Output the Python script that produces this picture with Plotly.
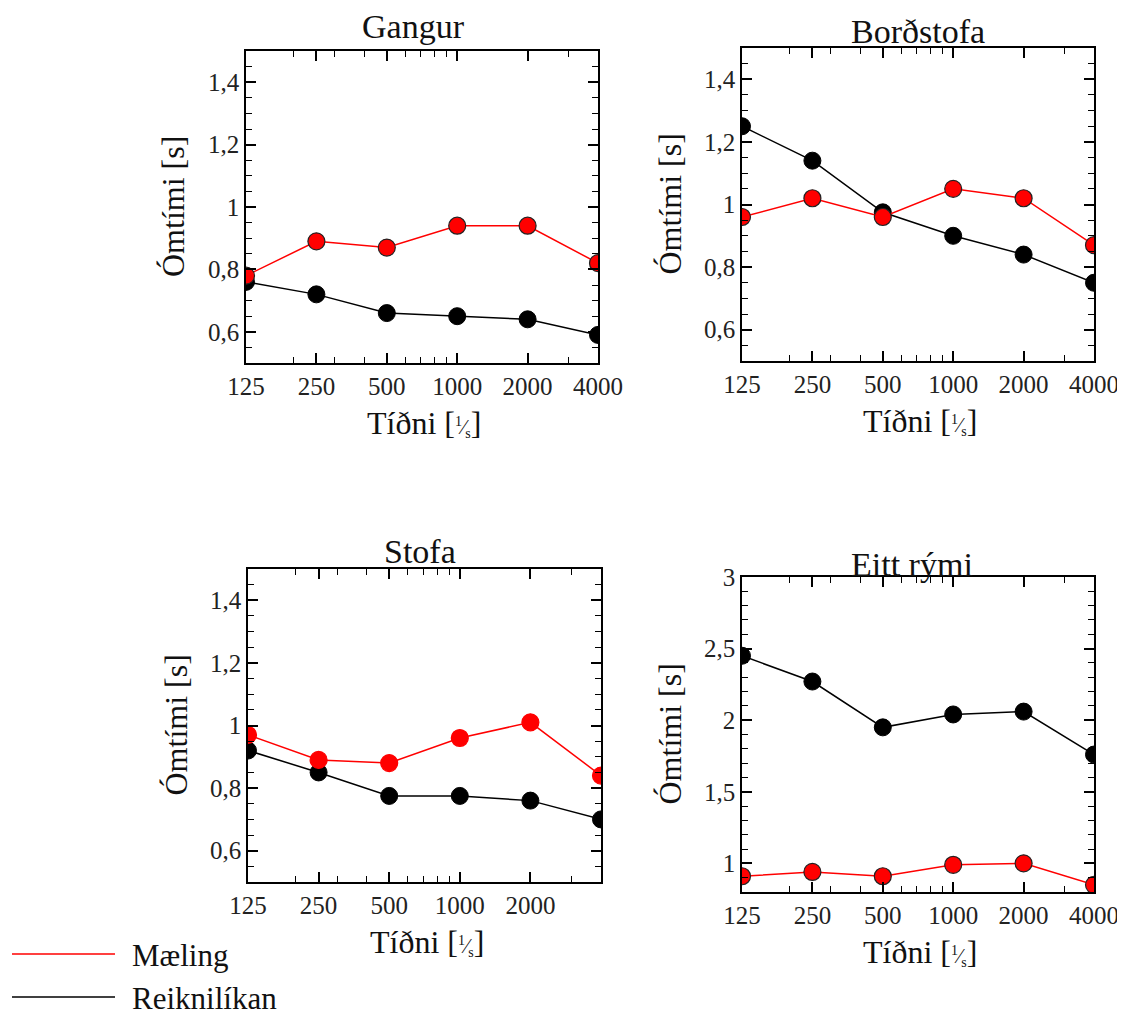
import math
import plotly.graph_objects as go

W, H = 1125, 1014
OFF = 8  # page body margin offset in the browser

freq = [125, 250, 500, 1000, 2000, 4000]
freq_labels = ["125", "250", "500", "1000", "2000", "4000"]
minor_freq = [200, 300, 400, 600, 700, 800, 900, 3000]

gangur_maeling = [0.78, 0.89, 0.87, 0.94, 0.94, 0.82]
gangur_reikn = [0.76, 0.72, 0.66, 0.65, 0.64, 0.59]

bord_maeling = [0.96, 1.02, 0.96, 1.05, 1.02, 0.87]
bord_reikn = [1.25, 1.14, 0.975, 0.90, 0.84, 0.75]

stofa_maeling = [0.97, 0.89, 0.88, 0.96, 1.01, 0.84]
stofa_reikn = [0.92, 0.85, 0.775, 0.775, 0.76, 0.70]

eitt_maeling = [0.91, 0.94, 0.91, 0.99, 1.00, 0.85]
eitt_reikn = [2.45, 2.27, 1.95, 2.04, 2.06, 1.76]

titles = ["Gangur", "Borðstofa", "Stofa", "Eitt rými"]

FONT = "Liberation Serif"
RED = "#ff0000"


def fx(px):
    return (px - OFF) / W


def fy(py):
    return 1 - (py - OFF) / H


# panel pixel boxes (screen coords): (left, right, top, bottom)
boxes = [(246, 598, 51, 363), (742, 1094, 48, 361), (248, 601, 569, 882), (742, 1094, 577, 892)]
title_pos = [(413, 27), (918, 31), (420, 551), (912, 564)]

panels = [
    dict(m=gangur_maeling, r=gangur_reikn, yr=[0.5, 1.5], dt=0.2, mdt=0.05, ticks=freq, red_edge=True),
    dict(m=bord_maeling, r=bord_reikn, yr=[0.5, 1.5], dt=0.2, mdt=0.05, ticks=freq, red_edge=True),
    dict(m=stofa_maeling, r=stofa_reikn, yr=[0.5, 1.5], dt=0.2, mdt=0.05, ticks=freq[:5], red_edge=False),
    dict(m=eitt_maeling, r=eitt_reikn, yr=[0.8, 3.0001], dt=0.5, mdt=0.1, ticks=freq, red_edge=True),
]

XTITLE = "Tíðni [<span style='font-size:20px'><sup>1</sup>⁄<sub>s</sub></span>]"

fig = go.Figure()
annotations = []

for i, (p, box) in enumerate(zip(panels, boxes)):
    n = "" if i == 0 else str(i + 1)
    xa, ya = "x" + n, "y" + n
    fig.add_trace(go.Scatter(
        x=freq, y=p["r"], mode="lines+markers", name="Reiknilíkan", showlegend=False,
        line=dict(color="black", width=1.5),
        marker=dict(size=17, color="black", line=dict(color="black", width=1)),
        xaxis=xa, yaxis=ya))
    fig.add_trace(go.Scatter(
        x=freq, y=p["m"], mode="lines+markers", name="Mæling", showlegend=False,
        line=dict(color=RED, width=1.5),
        marker=dict(size=17, color=RED,
                    line=dict(color="#222222" if p["red_edge"] else RED, width=1.2)),
        xaxis=xa, yaxis=ya))
    l, r, t, b = box
    axis_common = dict(showline=True, linecolor="black", linewidth=1.5, mirror="ticks",
                       ticks="inside", tickcolor="black", showgrid=False, zeroline=False,
                       automargin=False,
                       tickfont=dict(family=FONT, size=25, color="#222222"))
    fig.update_layout(**{
        ("xaxis" + n): dict(axis_common, type="log", domain=[fx(l), fx(r)],
                            range=[math.log10(125), math.log10(4000)],
                            tickmode="array", tickvals=p["ticks"],
                            ticktext=[freq_labels[freq.index(v)] for v in p["ticks"]],
                            ticklen=10, tickwidth=1.5,
                            minor=dict(ticks="inside", tickvals=minor_freq, ticklen=6,
                                       tickcolor="black", tickwidth=1.2),
                            anchor=ya),
        ("yaxis" + n): dict(axis_common, domain=[fy(b), fy(t)], range=p["yr"],
                            dtick=p["dt"], tick0=0, ticklen=10, tickwidth=1.5,
                            minor=dict(ticks="inside", dtick=p["mdt"], ticklen=6,
                                       tickcolor="black", tickwidth=1.2),
                            anchor=xa),
    })
    tx, ty = title_pos[i]
    annotations.append(dict(text=titles[i], x=fx(tx), y=fy(ty), xref="paper", yref="paper",
                            showarrow=False, font=dict(family=FONT, size=34, color="#111111"),
                            xanchor="center", yanchor="middle"))
    # axis titles
    annotations.append(dict(text=XTITLE, x=fx((l + r) / 2 + 2),
                            y=fy(b + 60), xref="paper", yref="paper", showarrow=False,
                            font=dict(family=FONT, size=32, color="#111111"),
                            xanchor="center", yanchor="middle"))
    annotations.append(dict(text="Ómtími [s]", x=fx(l - 73), y=fy((t + b) / 2),
                            xref="paper", yref="paper", showarrow=False, textangle=-90,
                            font=dict(family=FONT, size=32, color="#111111"),
                            xanchor="center", yanchor="middle"))

# legend (drawn manually to match the reference layout)
legend_items = [("Mæling", RED, 954), ("Reiknilíkan", "black", 997)]
shapes = []
for name, col, yy in legend_items:
    shapes.append(dict(type="line", xref="paper", yref="paper", x0=fx(12), x1=fx(115),
                       y0=fy(yy), y1=fy(yy), line=dict(color=col, width=1.5)))
    annotations.append(dict(text=name, x=fx(130), y=fy(yy + 1), xref="paper", yref="paper",
                            showarrow=False, xanchor="left", yanchor="middle",
                            font=dict(family=FONT, size=31, color="#111111")))

fig.update_layout(width=W, height=H, margin=dict(l=0, r=0, t=0, b=0, autoexpand=False),
                  paper_bgcolor="white", plot_bgcolor="white", separators=",.",
                  showlegend=False, annotations=annotations, shapes=shapes,
                  font=dict(family=FONT))

fig.write_html("out.html")
